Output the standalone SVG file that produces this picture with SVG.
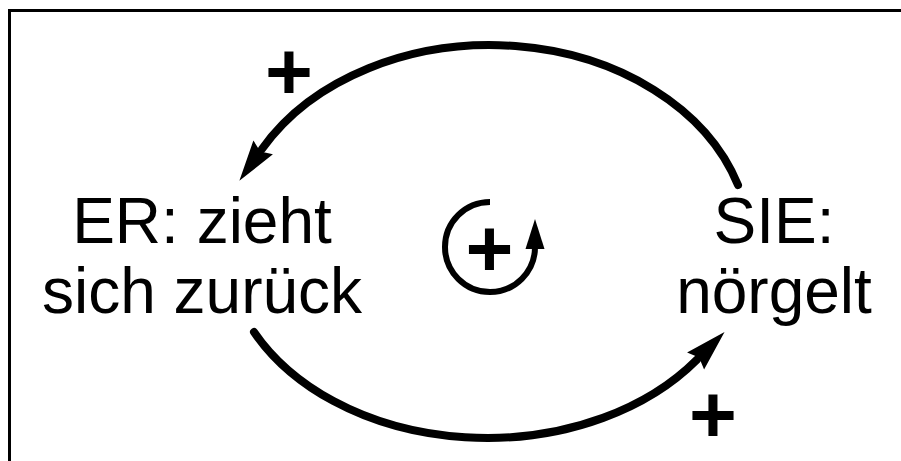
<svg xmlns="http://www.w3.org/2000/svg" width="901" height="461" viewBox="0 0 901 461">
<style>
.lbl{font-family:"Liberation Sans",Arial,sans-serif;font-size:64px;fill:#000;text-anchor:middle}
.sign{font-family:"Liberation Sans",Arial,sans-serif;font-weight:bold;font-size:82px;fill:#000;text-anchor:middle}
.conn{fill:none;stroke:#000;stroke-width:8;stroke-linecap:round}
.loop{fill:none;stroke:#000;stroke-width:6}
</style>
<defs>
<marker id="ah" markerUnits="userSpaceOnUse" orient="auto" refX="0" refY="0" markerWidth="60" markerHeight="60" overflow="visible">
<path d="M-2,-12 L39,0 L-2,12 L3,0 z" fill="#000"/>
</marker>
<marker id="ahs" markerUnits="userSpaceOnUse" orient="auto" refX="0" refY="0" markerWidth="40" markerHeight="40" overflow="visible">
<path d="M-2,-9.5 L28,0 L-2,9.5 z" fill="#000"/>
</marker>
</defs>
<rect width="901" height="461" fill="#fff"/>
<path d="M9.5,461 V10.5 H901" fill="none" stroke="#000" stroke-width="3"/>
<g id="connectors">
<path class="conn" d="M738,185 A260,200 0 0 0 262,149" marker-end="url(#ah)"/>
<path class="conn" d="M254,332 A261,193 0 0 0 697,359.6" marker-end="url(#ah)"/>
</g>
<g id="node-er">
<text class="lbl" x="202" y="243">ER: zieht</text>
<text class="lbl" x="202" y="313">sich zurück</text>
</g>
<g id="node-sie">
<text class="lbl" x="774" y="243">SIE:</text>
<text class="lbl" x="774" y="313">nörgelt</text>
</g>
<g id="loop">
<path class="loop" d="M490,202 A45,45 0 1 0 535,247" marker-end="url(#ahs)"/>
<text class="sign" x="489.5" y="276">+</text>
</g>
<g id="signs">
<text class="sign" x="289" y="99">+</text>
<text class="sign" x="713" y="442">+</text>
</g>
</svg>
